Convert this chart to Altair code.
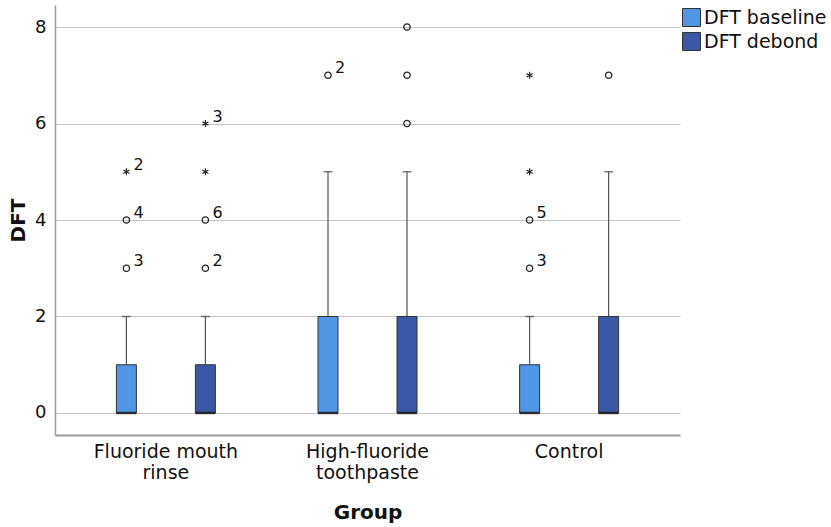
import altair as alt
import pandas as pd

# Box summaries per group and measurement
groups = ["Fluoride mouth rinse", "High-fluoride toothpaste", "Control"]
series = ["DFT baseline", "DFT debond"]

box_group = ["Fluoride mouth rinse", "Fluoride mouth rinse",
             "High-fluoride toothpaste", "High-fluoride toothpaste",
             "Control", "Control"]
box_series = ["DFT baseline", "DFT debond"] * 3
q1 = [0, 0, 0, 0, 0, 0]
median = [0, 0, 0, 0, 0, 0]
q3 = [1, 1, 2, 2, 1, 2]
whisker_low = [0, 0, 0, 0, 0, 0]
whisker_high = [2, 2, 5, 5, 2, 5]

# Outliers: circles are mild, stars are extreme; some carry case labels
out_group = (["Fluoride mouth rinse"] * 7 + ["High-fluoride toothpaste"] * 4
             + ["Control"] * 5)
out_series = (["DFT baseline"] * 3 + ["DFT debond"] * 4
              + ["DFT baseline"] + ["DFT debond"] * 3
              + ["DFT baseline"] * 4 + ["DFT debond"])
out_value = [3, 4, 5, 3, 4, 5, 6, 7, 6, 7, 8, 3, 4, 5, 7, 7]
out_kind = ["mild", "mild", "extreme", "mild", "mild", "extreme", "extreme",
            "mild", "mild", "mild", "mild",
            "mild", "mild", "extreme", "extreme", "mild"]
out_label = ["3", "4", "2", "2", "6", "", "3", "2", "", "", "",
             "3", "5", "", "", ""]

colors = ["#5096e4", "#3b58a6"]
FONT = "DejaVu Sans"

boxes = pd.DataFrame({
    "Group": box_group, "Series": box_series, "q1": q1, "median": median,
    "q3": q3, "lo": whisker_low, "hi": whisker_high,
})
outliers = pd.DataFrame({
    "Group": out_group, "Series": out_series, "DFT": out_value,
    "kind": out_kind, "label": out_label,
})

label_expr = (
    "datum.value === 'Fluoride mouth rinse' ? ['Fluoride mouth', 'rinse'] : "
    "datum.value === 'High-fluoride toothpaste' ? ['High-fluoride', 'toothpaste'] : "
    "datum.value"
)

x_enc = alt.X(
    "Group:N",
    sort=groups,
    scale=alt.Scale(domain=groups, paddingInner=0, paddingOuter=0.05),
    axis=alt.Axis(
        title="Group", labelAngle=0, labelExpr=label_expr, ticks=False,
        labelPadding=7, labelLineHeight=21, labelFontSize=19,
        labelColor="#111", labelFont=FONT,
        domainColor="#9a9a9a", domainWidth=2,
        titleFontSize=20, titleFontWeight="bold", titleFont=FONT,
        titleColor="#111", titleY=77, titleBaseline="middle",
    ),
)
xoff_enc = alt.XOffset(
    "Series:N",
    sort=series,
    scale=alt.Scale(domain=series, type="band", paddingInner=0, paddingOuter=0.276),
)

y_scale = alt.Scale(domain=[-0.456, 8.456], nice=False, zero=False)
y_axis = alt.Axis(
    title="DFT", values=[0, 2, 4, 6, 8], ticks=False, labelPadding=9,
    labelFontSize=18, labelColor="#111", labelFont=FONT,
    grid=True, gridColor="#c4c4c4", gridWidth=1,
    domainColor="#9a9a9a", domainWidth=1.5,
    titleFontSize=20, titleFontWeight="bold", titleFont=FONT,
    titleColor="#111", titleX=-37, titleY=215, titleAngle=-90,
    titleBaseline="middle",
)

base_box = alt.Chart(boxes).encode(x=x_enc, xOffset=xoff_enc)

whisker = base_box.mark_rule(color="#555", strokeWidth=1.2).encode(
    y=alt.Y("q3:Q", scale=y_scale, axis=y_axis), y2="hi:Q"
)
cap = base_box.mark_tick(color="#444", size=9, thickness=1.5, orient="horizontal").encode(
    y=alt.Y("hi:Q", scale=y_scale)
)
box = base_box.mark_bar(size=20, stroke="#333", strokeWidth=1).encode(
    y=alt.Y("q1:Q", scale=y_scale),
    y2="q3:Q",
    color=alt.Color(
        "Series:N",
        scale=alt.Scale(domain=series, range=colors),
        legend=alt.Legend(
            title=None, orient="none", legendX=627, legendY=3,
            symbolType="square", symbolSize=324, symbolStrokeColor="#333",
            symbolStrokeWidth=1, symbolOpacity=1, labelFontSize=19,
            labelFont=FONT, labelColor="#111", labelOffset=3,
            rowPadding=1, padding=0, symbolOffset=0,
        ),
    ),
)
med = base_box.mark_tick(color="#111", size=20, thickness=2.5, orient="horizontal").encode(
    y=alt.Y("median:Q", scale=y_scale)
)

base_out = alt.Chart(outliers).encode(
    x=x_enc, xOffset=xoff_enc, y=alt.Y("DFT:Q", scale=y_scale)
)
mild = base_out.transform_filter("datum.kind === 'mild'").mark_point(
    shape="circle", size=40, filled=False, color="#222", strokeWidth=1.3, opacity=1
)
extreme = base_out.transform_filter("datum.kind === 'extreme'").mark_point(
    shape="M0,-1L0,1M-0.87,-0.5L0.87,0.5M-0.87,0.5L0.87,-0.5",
    size=50, filled=False, color="#222", strokeWidth=1.2, opacity=1
)
labels = base_out.transform_filter("datum.label !== ''").mark_text(
    align="left", baseline="middle", dx=7, dy=-7, fontSize=16,
    font=FONT, color="#111"
).encode(text="label:N")

chart = alt.layer(whisker, cap, box, med, mild, extreme, labels).properties(
    width=625, height=430,
    padding={"left": 55, "top": 5, "right": 151, "bottom": 92},
    autosize=alt.AutoSizeParams(type="none"),
).configure_view(stroke=None)

chart.save("out.html", embed_options={"renderer": "svg", "actions": False})
